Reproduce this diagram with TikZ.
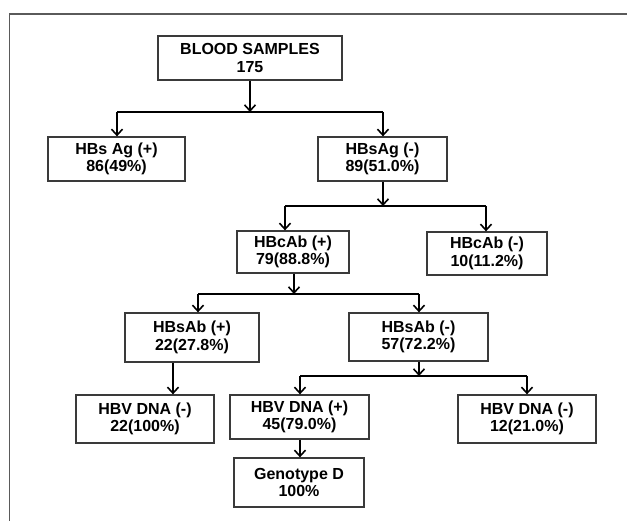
\documentclass[tikz,border=0pt]{standalone}
\usepackage{fontspec}
\setmainfont{Liberation Sans}
\usetikzlibrary{arrows.meta,positioning,calc}
\definecolor{boxline}{HTML}{3A3A3A}
\definecolor{frameline}{HTML}{5A5A5A}

\begin{document}
\begin{tikzpicture}[x=1pt,y=-1pt,line join=miter]
\tikzstyle{box}=[draw=boxline,line width=1.3pt,align=center,inner sep=0pt,
  font=\fontsize{16}{17.5}\selectfont\bfseries]
\tikzstyle{conn}=[line width=1.8pt,-{Straight Barb[length=6pt,width=11pt,line width=1.6pt]}]
\tikzstyle{bar}=[line width=1.8pt]
\tikzstyle{frame}=[draw=frameline,line width=1.4pt]

\useasboundingbox (0,0) rectangle (627,521);

% open frame
\draw[frame] (9.5,521) -- (9.5,14) -- (627,14);

% Boxes
\node[box,minimum width=184pt,minimum height=44pt] (blood) at (250,58) {BLOOD SAMPLES\\175};
\node[box,minimum width=137pt,minimum height=44pt] (agp) at (116.5,159) {HBs Ag (+)\\86(49\%)};
\node[box,minimum width=129pt,minimum height=44pt] (agn) at (382.5,159) {HBsAg (-)\\89(51.0\%)};
\node[box,minimum width=112pt,minimum height=42pt] (cabp) at (293,252) {HBcAb (+)\\79(88.8\%)};
\node[box,minimum width=120pt,minimum height=43pt] (cabn) at (487,253.5) {HBcAb (-)\\10(11.2\%)};
\node[box,minimum width=134pt,minimum height=49pt] (sabp) at (192,337.5) {HBsAb (+)\\22(27.8\%)};
\node[box,minimum width=139pt,minimum height=48pt] (sabn) at (418.5,337) {HBsAb (-)\\57(72.2\%)};
\node[box,minimum width=138pt,minimum height=48pt] (dnan1) at (145,419) {HBV DNA (-)\\22(100\%)};
\node[box,minimum width=139pt,minimum height=44pt] (dnap) at (299.5,417) {HBV DNA (+)\\45(79.0\%)};
\node[box,minimum width=138pt,minimum height=48pt] (dnan2) at (527,419) {HBV DNA (-)\\12(21.0\%)};
\node[box,minimum width=130pt,minimum height=49pt] (geno) at (299,482.5) {Genotype D\\100\%};

% Branch points
\coordinate (j1) at (250,112);
\coordinate (j1l) at (117,112);
\coordinate (j1r) at (383,112);
\coordinate (j2) at (383,206);
\coordinate (j2l) at (285,206);
\coordinate (j2r) at (486,206);
\coordinate (j3) at (294,294);
\coordinate (j3l) at (198,294);
\coordinate (j3r) at (419,294);
\coordinate (j4) at (419,376);
\coordinate (j4l) at (300,376);
\coordinate (j4r) at (527,376);
\coordinate (d1) at (173,0);

% Blood samples split
\draw[conn] (blood.south) -- (j1);
\draw[bar] (j1l) -- (j1r);
\draw[conn] (j1l) -- (j1l |- agp.north);
\draw[conn] (j1r) -- (j1r |- agn.north);

% HBsAg (-) split
\draw[conn] (agn.south -| j2) -- (j2);
\draw[bar] (j2l) -- (j2r);
\draw[conn] (j2l) -- (j2l |- cabp.north);
\draw[conn] (j2r) -- (j2r |- cabn.north);

% HBcAb (+) split
\draw[conn] (cabp.south -| j3) -- (j3);
\draw[bar] (j3l) -- (j3r);
\draw[conn] (j3l) -- (j3l |- sabp.north);
\draw[conn] (j3r) -- (j3r |- sabn.north);

% HBsAb (+) to DNA
\draw[conn] (sabp.south -| d1) -- (dnan1.north -| d1);

% HBsAb (-) split
\draw[conn] (sabn.south -| j4) -- (j4);
\draw[bar] (j4l) -- (j4r);
\draw[conn] (j4l) -- (j4l |- dnap.north);
\draw[conn] (j4r) -- (j4r |- dnan2.north);

% Genotype
\draw[conn] (dnap.south -| j4l) -- (geno.north -| j4l);
\end{tikzpicture}
\end{document}
